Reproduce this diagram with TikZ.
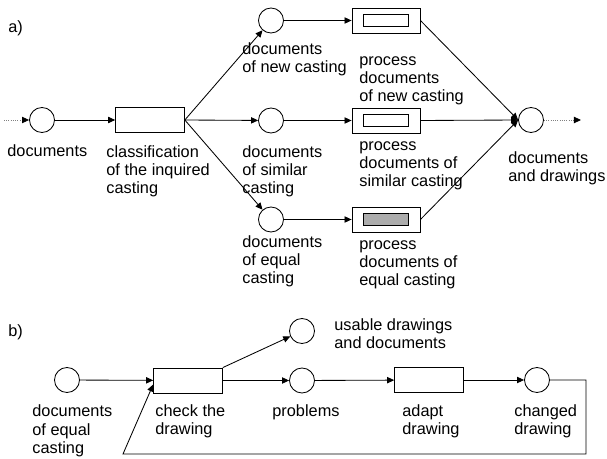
\documentclass[tikz,border=0pt]{standalone}
\usepackage{fontspec}
\setmainfont{Liberation Sans}
\usetikzlibrary{arrows.meta}

\begin{document}
\begin{tikzpicture}[x=0.025cm,y=-0.025cm,line width=0.6pt,
  >={Triangle[length=5pt,width=4.5pt]},
  place/.style={draw,circle,inner sep=0pt,minimum size=0.625cm},
  trans/.style={draw,rectangle,inner sep=0pt,minimum width=1.72cm,minimum height=0.625cm},
  inbox/.style={draw,rectangle,inner sep=0pt,minimum width=1.12cm,minimum height=0.28cm},
  lbl/.style={anchor=base west,align=left,inner sep=0pt,font=\fontsize{11.6pt}{13pt}\selectfont},
  feed/.style={densely dotted,gray,-{Triangle[length=5pt,width=4.5pt,color=black]}}]
\useasboundingbox (0,0) rectangle (607,459);

% a) classification of the inquired casting
\node[lbl] (la) at (8,33) {a)};
\coordinate (in) at (4,120);
\node[place] (doc) at (42,120) {};
\node[trans] (cls) at (150,120) {};
\node[place] (out) at (531,120) {};
\coordinate (outend) at (581,120);
\draw[feed] (in) -- (doc);
\draw[->] (doc) -- (cls);
\draw[feed] (out) -- (outend);

% three branches
\foreach \n/\y in {1/20.5,2/120.5,3/219.5} {
  \node[place] (c\n) at (271,\y) {};
  \node[trans,minimum width=1.7cm] (p\n) at (386,\y) {};
  \draw[->] (cls.east) -- (c\n);
  \draw[->] (c\n) -- (p\n);
  \draw[->] (p\n.east) -- (out.west);
}
\node[inbox] at (p1) {};
\node[inbox] at (p2) {};
\node[inbox,fill=gray!65,minimum height=0.32cm] at (p3) {};

% labels a) (anchored at the last line)
\node[lbl] (tdoc) at (7,157) {documents};
\node[lbl] (tcls) at (106,193.6) {classification\\of the inquired\\casting};
\node[lbl] (tc1) at (242,72.3) {documents\\of new casting};
\node[lbl] (tc2) at (242,193.6) {documents\\of similar\\casting};
\node[lbl] (tc3) at (242,283.6) {documents\\of equal\\casting};
\node[lbl] (tp1) at (359,101.6) {process\\documents\\of new casting};
\node[lbl] (tp2) at (359,186.6) {process\\documents of\\similar casting};
\node[lbl] (tp3) at (359,285.6) {process\\documents of\\equal casting};
\node[lbl] (tout) at (508,181.3) {documents\\and drawings};

% b) documents of equal casting
\node[lbl] (lb) at (8,337) {b)};
\node[place] (deq) at (67,380) {};
\node[trans] (chk) at (188,380.5) {};
\node[place] (use) at (302,331) {};
\node[place] (prb) at (302,380.5) {};
\node[trans] (adp) at (429,380) {};
\node[place] (chg) at (537,380) {};
\coordinate (fbR) at (586,454);
\coordinate (fbL) at (123,454);

\draw[->] (deq) -- (chk);
\draw[->] (chk.north east) -- (use);
\draw[->] (chk) -- (prb);
\draw[->] (prb) -- (adp);
\draw[->] (adp) -- (chg);
\draw[->] (chg.east) -| (fbR) -- (fbL) -- ([yshift=-0.1cm]chk.west);

% labels b)
\node[lbl] (tuse) at (334,348.3) {usable drawings\\and documents};
\node[lbl] (tdeq) at (32,453.3) {documents\\of equal\\casting};
\node[lbl] (tchk) at (155,435) {check the\\drawing};
\node[lbl] (tprb) at (272,416.7) {problems};
\node[lbl] (tadp) at (402,435) {adapt\\drawing};
\node[lbl] (tchg) at (514,435) {changed\\drawing};
\end{tikzpicture}
\end{document}
